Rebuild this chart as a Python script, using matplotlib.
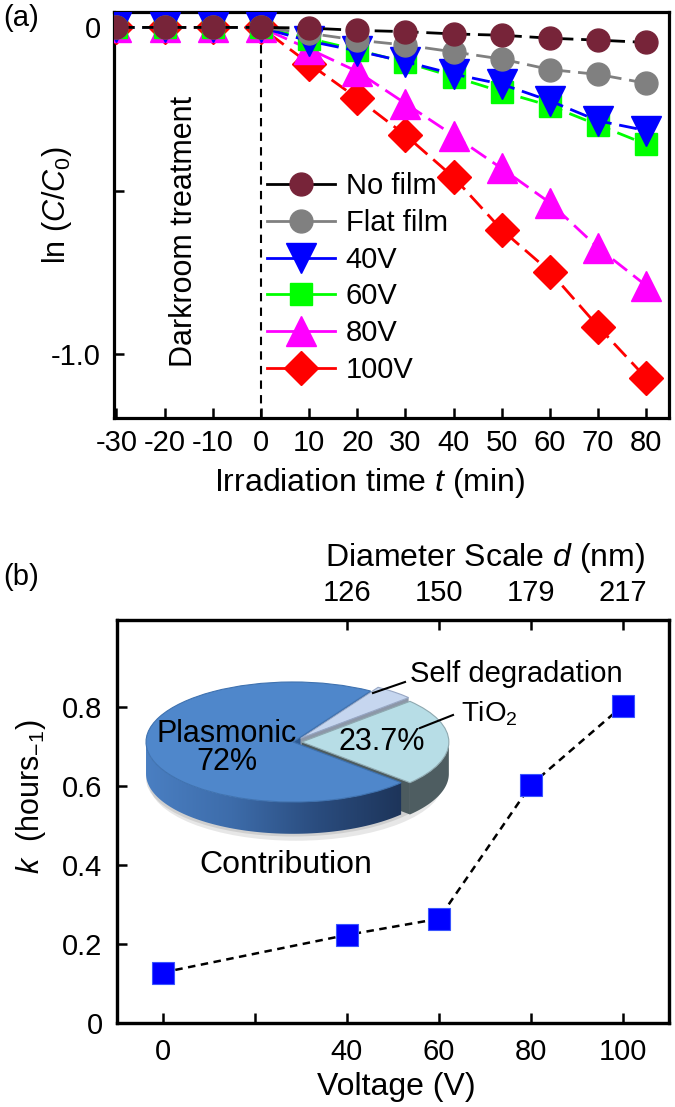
import numpy as np
import matplotlib
matplotlib.use('Agg')
import matplotlib.pyplot as plt
from matplotlib.lines import Line2D
from matplotlib.patches import Polygon, Ellipse
from matplotlib.colors import LinearSegmentedColormap

plt.rcParams['font.family'] = ['Liberation Sans', 'DejaVu Sans']
plt.rcParams['mathtext.fontset'] = 'custom'
plt.rcParams['mathtext.rm'] = 'Liberation Sans'
plt.rcParams['mathtext.it'] = 'Liberation Sans:italic'
plt.rcParams['axes.unicode_minus'] = False

# ---- panel (a): ln(C/C0) vs irradiation time ----
time = [-30, -20, -10, 0, 10, 20, 30, 40, 50, 60, 70, 80]
no_film = [0, 0, 0, 0, -0.002, -0.009, -0.013, -0.020, -0.024, -0.033, -0.039, -0.046]
flat_film = [0, 0, 0, 0, -0.018, -0.039, -0.054, -0.075, -0.097, -0.129, -0.144, -0.171]
film_40v = [0, 0, 0, 0, -0.042, -0.072, -0.105, -0.143, -0.174, -0.225, -0.286, -0.316]
film_60v = [0, 0, 0, 0, -0.034, -0.069, -0.107, -0.151, -0.197, -0.240, -0.299, -0.358]
film_80v = [0, 0, 0, 0, -0.066, -0.135, -0.233, -0.331, -0.432, -0.537, -0.675, -0.791]
film_100v = [0, 0, 0, 0, -0.111, -0.217, -0.330, -0.459, -0.620, -0.748, -0.916, -1.074]
series_names = ['No film', 'Flat film', '40V', '60V', '80V', '100V']

# ---- panel (b): rate constant vs voltage, pie inset ----
voltage = [0, 40, 60, 80, 100]
k_rate = [0.127, 0.222, 0.263, 0.602, 0.803]
diam_pos = [40, 60, 80, 100]
diam_labels = ['126', '150', '179', '217']
pie_names = ['TiO2', 'Self degradation', 'Plasmonic']
pie_share = [23.7, 4.3, 72.0]

W, H = 675, 1107
fig = plt.figure(figsize=(W / 100, H / 100), dpi=100)


def fp(x, y):
    return (x / W, 1 - y / H)


def style(ax):
    for sp in ax.spines.values():
        sp.set_linewidth(2.3)
    ax.tick_params(direction='in', length=7, width=1.8, labelsize=21)


# ================= (a) =================
ax1 = fig.add_axes([0.1696, 0.6224, 0.8215, 0.3670])
style(ax1)
ax1.tick_params(axis='x', pad=8)
ax1.tick_params(axis='y', pad=10)

styles = [
    # line colour, marker, marker colour, size, zorder
    ('black', 'o', '#772439', 16.5, 8),
    ('#808080', 'o', '#808080', 16.5, 7),
    ('#0000FF', 'v', '#0000FF', 21, 6),
    ('#00FF00', 's', '#00FF00', 16, 5),
    ('#FF00FF', '^', '#FF00FF', 21, 4),
    ('#FF0000', 'D', '#FF0000', 17.3, 3),
]
all_vals = [no_film, flat_film, film_40v, film_60v, film_80v, film_100v]
handles = []
for vals, (lc, mk, mc, ms, z) in zip(all_vals, styles):
    ax1.plot(time, vals, color=lc, lw=2, dashes=(6.5, 2.8), marker=mk, ms=ms,
             mfc=mc, mec=mc, zorder=z)
    handles.append(Line2D([], [], color=lc, lw=2, marker=mk, ms=ms, mfc=mc, mec=mc))

ax1.axvline(0, color='black', lw=1.5, dashes=(4, 3), zorder=1)
ax1.set_xlim(-30.4, 84.7)
ax1.set_ylim(-1.196, 0.048)
ax1.set_xticks(range(-30, 81, 10))
ax1.set_xticklabels([str(t) for t in range(-30, 81, 10)])
ax1.set_yticks([0, -0.5, -1.0])
ax1.set_yticklabels(['0', '', '-1.0'])

ax1.legend(handles, series_names, loc='upper left', bbox_to_anchor=(0.275, 0.605),
           frameon=False, fontsize=21, handlelength=2.33, handletextpad=0.37,
           labelspacing=0.3, borderpad=0, borderaxespad=0, numpoints=1)

fig.text(*fp(21, 18), '(a)', ha='center', va='center', fontsize=21)
fig.text(*fp(184, 231), 'Darkroom treatment', rotation=90, ha='center', va='center', fontsize=22)
fig.text(*fp(57, 205), r'ln ($C$/$C_0$)', rotation=90, ha='center', va='center', fontsize=22)
fig.text(*fp(370, 483), r'Irradiation time $t$ (min)', ha='center', va='center', fontsize=23)

# ================= (b) =================
ax2 = fig.add_axes([0.1726, 0.0762, 0.8185, 0.3638])
style(ax2)
ax2.tick_params(axis='x', pad=11)
ax2.tick_params(axis='y', pad=10)
ax2.plot(voltage, k_rate, color='black', lw=1.8, dashes=(3, 2.2), zorder=2)
ax2.plot(voltage, k_rate, ls='none', marker='s', ms=16.5, mfc='#0000FF', mec='#3A55FF',
         mew=0.8, zorder=3)
ax2.set_xlim(-10, 110)
ax2.set_ylim(0, 1.02)
ax2.set_xticks([0, 20, 40, 60, 80, 100])
ax2.set_xticklabels(['0', '', '40', '60', '80', '100'])
ax2.set_yticks([0, 0.2, 0.4, 0.6, 0.8])
ax2.set_yticklabels(['0', '0.2', '0.4', '0.6', '0.8'])

axt = ax2.twiny()
style(axt)
axt.tick_params(axis='x', pad=9)
axt.set_xlim(ax2.get_xlim())
axt.set_xticks(diam_pos)
axt.set_xticklabels(diam_labels)

fig.text(*fp(21, 577), '(b)', ha='center', va='center', fontsize=21)
fig.text(*fp(485, 558), r'Diameter Scale $d$ (nm)', ha='center', va='center', fontsize=23)
fig.text(*fp(396, 1087), 'Voltage (V)', ha='center', va='center', fontsize=23)
fig.text(*fp(31, 797), r'$k$  (hours$_{-1}$)', rotation=90, ha='center', va='center', fontsize=22)

# ---- 3D-looking pie inset ----
pax = fig.add_axes([0.1292, 0.2213, 0.6098, 0.1789])
pax.patch.set_alpha(0)
depth = 0.53
frac = np.array(pie_share) / sum(pie_share)
start = -frac[0] * 180
bounds = start + 360 * np.concatenate([[0], np.cumsum(frac)])
explode = [0.06, 0.08, 0.0]
centers = []
for i in range(3):
    mid = np.deg2rad((bounds[i] + bounds[i + 1]) / 2)
    centers.append(np.array([explode[i] * np.cos(mid), explode[i] * np.sin(mid)]))


def rim_poly(c, a0, a1):
    a = np.deg2rad(np.linspace(a0, a1, 80))
    top = np.column_stack([c[0] + np.cos(a), c[1] + np.sin(a)])
    bot = top - [0, depth]
    return np.vstack([top, bot[::-1]])


def face_poly(c, a):
    p = c + [np.cos(np.deg2rad(a)), np.sin(np.deg2rad(a))]
    return np.array([c, p, p - [0, depth], c - [0, depth]])


# soft shadow under the pie
pax.add_patch(Ellipse((0.02, -depth - 0.14), 2.0, 1.95, color='#b0b0b0', alpha=0.3, lw=0, zorder=0.5))
pax.add_patch(Ellipse((0.0, -depth - 0.07), 2.0, 1.95, color='#9a9a9a', alpha=0.3, lw=0, zorder=0.6))

# radial faces at start angles
face_cols = ['#4C5B5F', '#8C97A8', '#2E5A92']
for i in [2, 1, 0]:
    pax.add_patch(Polygon(face_poly(centers[i], bounds[i]), closed=True,
                          fc=face_cols[i], ec='none', zorder=1 + 0.1 * (2 - i)))

# TiO2 front rim
pax.add_patch(Polygon(rim_poly(centers[0], bounds[0], 0), closed=True,
                      fc='#4E5D61', ec='none', zorder=1.5))

# Plasmonic front rim with horizontal gradient
pl_rim = Polygon(rim_poly(centers[2], 180, bounds[3]), closed=True, fc='none', ec='none')
pax.add_patch(pl_rim)
cmap = LinearSegmentedColormap.from_list('pl', ['#4A7FC2', '#3D6CAA', '#2A4C7E', '#1D3459'])
grad = np.linspace(0, 1, 256).reshape(1, -1)
im = pax.imshow(grad, cmap=cmap, extent=(-1.0, 0.75, -1.0 - depth - 0.05, 0.05),
                aspect='auto', zorder=2)
im.set_clip_path(pl_rim)

wedges, _ = pax.pie(pie_share, colors=['#B7DDE6', '#C6D6EF', '#4F87CB'], explode=explode,
                    startangle=start, counterclock=True, radius=1,
                    wedgeprops=dict(linewidth=0.8))
for w, ec in zip(wedges, ['#8FA9B0', '#98A7C4', '#3F72B0']):
    w.set_edgecolor(ec)
    w.set_zorder(3)
pax.set_aspect('auto')
pax.set_xlim(-1.4, 1.4)
pax.set_ylim(-2.0, 1.3)
pax.axis('off')

fig.text(*fp(227, 748), 'Plasmonic\n72%', ha='center', va='center', fontsize=22,
         multialignment='center', linespacing=0.95)
fig.text(*fp(382, 742), '23.7%', ha='center', va='center', fontsize=22)
fig.text(*fp(410, 674), 'Self degradation', ha='left', va='center', fontsize=21)
fig.text(*fp(461, 714), r'TiO$_2$', ha='left', va='center', fontsize=20)
fig.text(*fp(286, 865), 'Contribution', ha='center', va='center', fontsize=23)
for (x1, y1), (x2, y2) in [((373, 693), (405, 682)), ((420, 728), (453, 715))]:
    a, b = fp(x1, y1), fp(x2, y2)
    fig.add_artist(Line2D([a[0], b[0]], [a[1], b[1]], transform=fig.transFigure,
                          color='black', lw=1.5))

fig.savefig('out.png', dpi=100)
